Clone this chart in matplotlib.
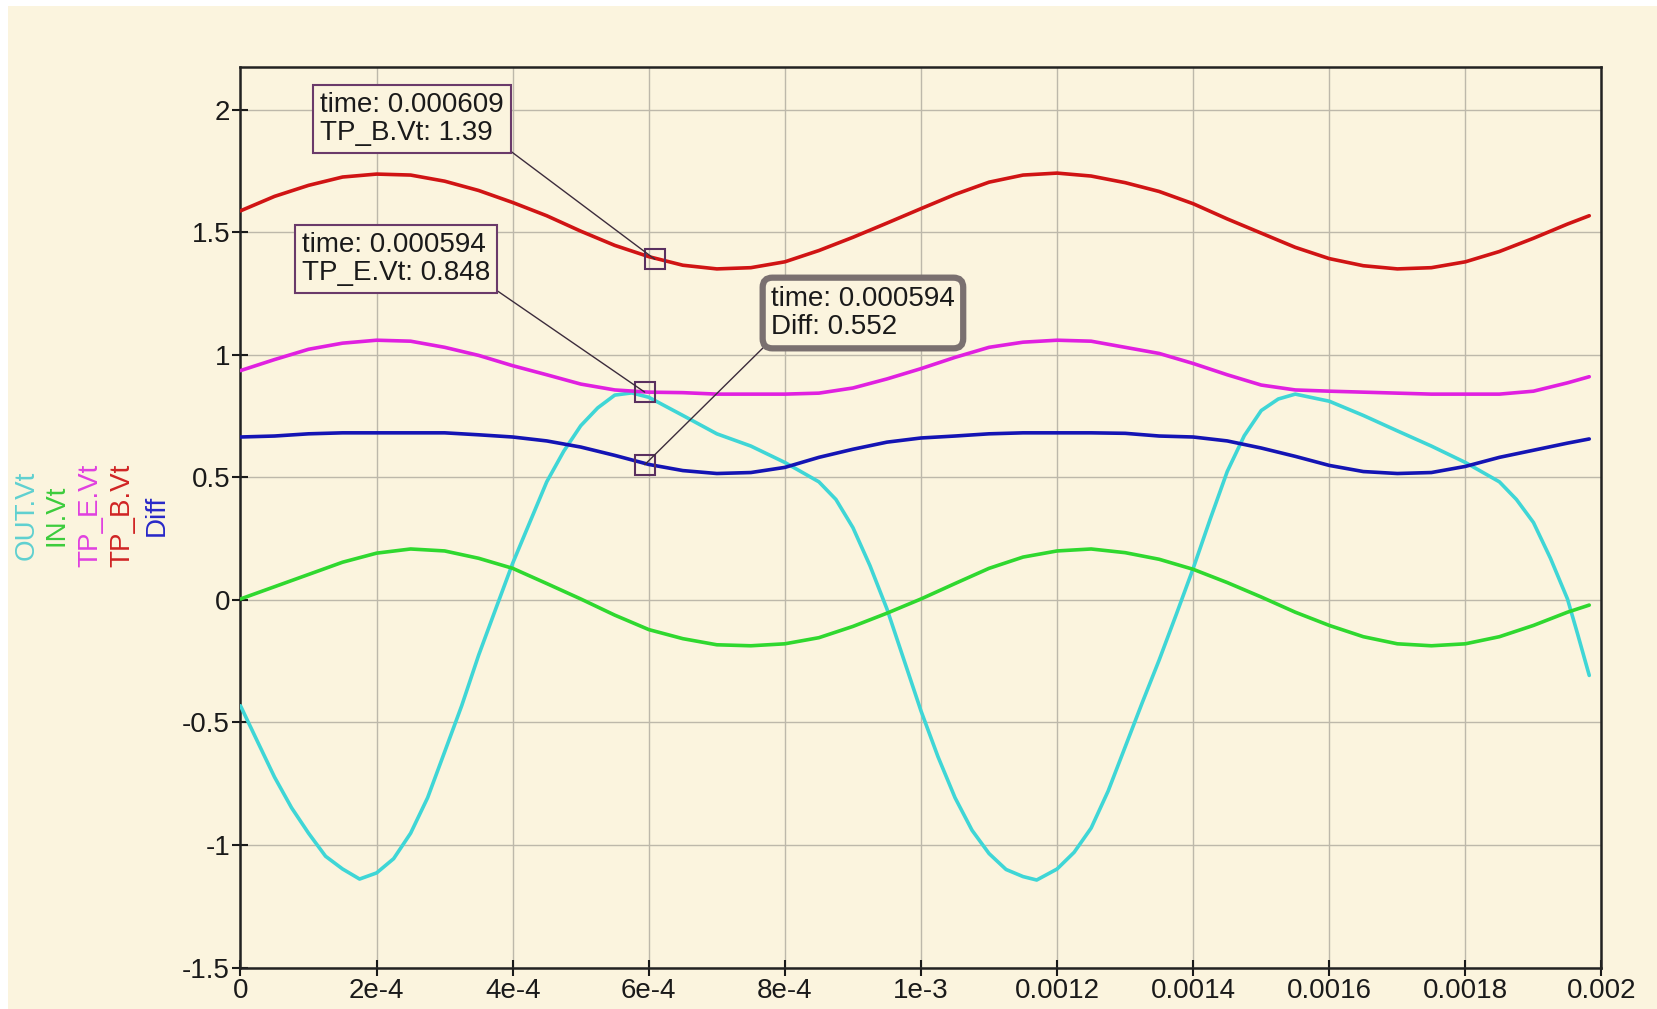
import matplotlib
matplotlib.use('Agg')
import matplotlib.pyplot as plt
from matplotlib.patches import Rectangle

# time axis in units of 1e-4 s
t_grid = [0, 0.5, 1, 1.5, 2, 2.5, 3, 3.5, 4, 4.5, 5, 5.5, 6, 6.5, 7, 7.5, 8, 8.5, 9, 9.5,
          10, 10.5, 11, 11.5, 12, 12.5, 13, 13.5, 14, 14.5, 15, 15.5, 16, 16.5, 17, 17.5,
          18, 18.5, 19, 19.5, 19.82]

tp_b = [1.588, 1.647, 1.692, 1.726, 1.738, 1.734, 1.709, 1.671, 1.622, 1.568, 1.505, 1.447,
        1.401, 1.366, 1.351, 1.356, 1.380, 1.426, 1.480, 1.538, 1.597, 1.655, 1.705, 1.734,
        1.742, 1.730, 1.703, 1.667, 1.617, 1.555, 1.497, 1.439, 1.393, 1.364, 1.351, 1.356,
        1.380, 1.422, 1.476, 1.534, 1.568]

tp_e = [0.936, 0.981, 1.023, 1.048, 1.060, 1.056, 1.031, 0.998, 0.956, 0.919, 0.881, 0.857,
        0.848, 0.846, 0.840, 0.840, 0.840, 0.844, 0.865, 0.902, 0.944, 0.990, 1.031, 1.052,
        1.060, 1.056, 1.031, 1.006, 0.965, 0.919, 0.877, 0.857, 0.852, 0.848, 0.844, 0.840,
        0.840, 0.840, 0.852, 0.886, 0.911]

diff = [0.665, 0.669, 0.678, 0.682, 0.682, 0.682, 0.682, 0.674, 0.665, 0.649, 0.624, 0.590,
        0.553, 0.528, 0.516, 0.520, 0.541, 0.582, 0.615, 0.644, 0.661, 0.669, 0.678, 0.682,
        0.682, 0.682, 0.680, 0.669, 0.665, 0.649, 0.620, 0.586, 0.549, 0.524, 0.516, 0.520,
        0.545, 0.582, 0.611, 0.640, 0.657]

in_vt = [0.004, 0.054, 0.104, 0.154, 0.191, 0.208, 0.200, 0.170, 0.129, 0.067, 0.004, -0.062,
         -0.121, -0.158, -0.183, -0.187, -0.179, -0.154, -0.108, -0.054, 0.004, 0.067, 0.129,
         0.175, 0.200, 0.208, 0.193, 0.166, 0.125, 0.071, 0.012, -0.050, -0.104, -0.150,
         -0.179, -0.187, -0.179, -0.150, -0.104, -0.050, -0.021]

t_out = [0, 0.25, 0.5, 0.75, 1, 1.25, 1.5, 1.75, 2, 2.25, 2.5, 2.75, 3, 3.25, 3.5, 3.75,
         4, 4.25, 4.5, 4.75, 5, 5.25, 5.5, 5.75, 6, 6.5, 7, 7.5, 8, 8.5, 8.75, 9, 9.25,
         9.5, 9.75, 10, 10.25, 10.5, 10.75, 11, 11.25, 11.5, 11.7, 12, 12.25, 12.5, 12.75,
         13, 13.25, 13.5, 13.75, 14, 14.25, 14.5, 14.75, 15, 15.25, 15.5, 16, 16.5, 17,
         17.5, 18, 18.5, 18.75, 19, 19.25, 19.5, 19.65, 19.82]
out_vt = [-0.432, -0.578, -0.723, -0.848, -0.952, -1.046, -1.098, -1.139, -1.114, -1.056,
          -0.952, -0.807, -0.620, -0.432, -0.225, -0.037, 0.150, 0.316, 0.482, 0.607,
          0.711, 0.784, 0.836, 0.845, 0.827, 0.753, 0.678, 0.628, 0.561, 0.482, 0.410,
          0.295, 0.140, -0.037, -0.245, -0.453, -0.640, -0.807, -0.940, -1.035, -1.100,
          -1.129, -1.143, -1.098, -1.030, -0.931, -0.780, -0.600, -0.420, -0.245, -0.060,
          0.129, 0.330, 0.524, 0.670, 0.773, 0.820, 0.840, 0.811, 0.753, 0.690, 0.628,
          0.561, 0.482, 0.410, 0.316, 0.170, 0.004, -0.140, -0.308]

series_names = ['OUT.Vt', 'IN.Vt', 'TP_E.Vt', 'TP_B.Vt', 'Diff']
series_colors = ['#3fd6d6', '#2fd82f', '#e020e0', '#d01414', '#1414b4']
label_colors = ['#5fd0d0', '#3ccc3c', '#e040e0', '#d02424', '#2828c8']

# cursor readouts
cursor_names = ['TP_B.Vt', 'TP_E.Vt', 'Diff']
cursor_times = [0.000609, 0.000594, 0.000594]
cursor_vals = [1.39, 0.848, 0.552]

x_ticks = [0, 2e-4, 4e-4, 6e-4, 8e-4, 1e-3, 0.0012, 0.0014, 0.0016, 0.0018, 0.002]
x_labels = ['0', '2e-4', '4e-4', '6e-4', '8e-4', '1e-3', '0.0012', '0.0014', '0.0016',
            '0.0018', '0.002']
y_ticks = [-1.5, -1, -0.5, 0, 0.5, 1, 1.5, 2]
y_labels = ['-1.5', '-1', '-0.5', '0', '0.5', '1', '1.5', '2']

BG = '#fbf4de'
W, H = 1658, 1009

plt.rcParams['font.family'] = ['Liberation Sans', 'DejaVu Sans']

fig = plt.figure(figsize=(W / 100, H / 100), dpi=100, facecolor='white')
fig.patches.append(Rectangle((8 / W, 0), 1, 1 - 6 / H, transform=fig.transFigure,
                             facecolor=BG, edgecolor='none', zorder=-10))

ax = fig.add_axes([240.5 / W, (H - 967.5) / H, 1361 / W, 900.5 / H])
ax.set_facecolor(BG)

sec = lambda ts: [v * 1e-4 for v in ts]
data = [(t_out, out_vt), (t_grid, in_vt), (t_grid, tp_e), (t_grid, tp_b), (t_grid, diff)]
for (ts, ys), c in zip(data, series_colors):
    ax.plot(sec(ts), ys, color=c, lw=2.6, solid_capstyle='round',
            solid_joinstyle='round', zorder=3)

ax.set_xlim(0, 0.002)
ax.set_ylim(-1.5, 2.175)
ax.set_xticks(x_ticks)
ax.set_xticklabels(x_labels)
ax.set_yticks(y_ticks)
ax.set_yticklabels(y_labels)
ax.tick_params(direction='inout', length=11, width=1.5, labelsize=20, pad=2,
               colors='#1a1a1a')
ax.grid(True, color='#bdb8aa', lw=1.0, zorder=0)
for s in ax.spines.values():
    s.set_linewidth(1.8)
    s.set_color('#222222')

# stacked vertical series labels
label_x = [27, 56, 90, 122, 157]
for name, c, px in zip(series_names, label_colors, label_x):
    fig.text(px / W, 1 - 515 / H, name, rotation=90, ha='center', va='center',
             fontsize=20, color=c)

# cursor boxes (text top-left in figure pixels)
box_pos = [(320, H - 92), (302, H - 232), (771, H - 286)]
rel = [(1, 0), (1, 0), (0, 0)]
for i, (name, tv, v) in enumerate(zip(cursor_names, cursor_times, cursor_vals)):
    ax.plot([tv], [v], marker='s', ms=14, mfc='none', mec='#5a3060', mew=1.5, zorder=5)
    if name == 'Diff':
        bb = dict(boxstyle='round,pad=0.3,rounding_size=0.35', fc=BG, ec='#7a7070', lw=4.5)
    else:
        bb = dict(boxstyle='square,pad=0.25', fc=BG, ec='#6a3a6a', lw=1.5)
    ax.annotate(f'time: {tv:.6f}\n{name}: {v:g}', xy=(tv, v),
                xytext=box_pos[i], textcoords='figure pixels',
                ha='left', va='top', fontsize=20, color='#1a1a1a', linespacing=1.1,
                bbox=bb, zorder=6,
                arrowprops=dict(arrowstyle='-', color='#3c2c3c', lw=1,
                                relpos=rel[i], shrinkA=0, shrinkB=0))

fig.savefig('out.png', dpi=100, facecolor=fig.get_facecolor())
